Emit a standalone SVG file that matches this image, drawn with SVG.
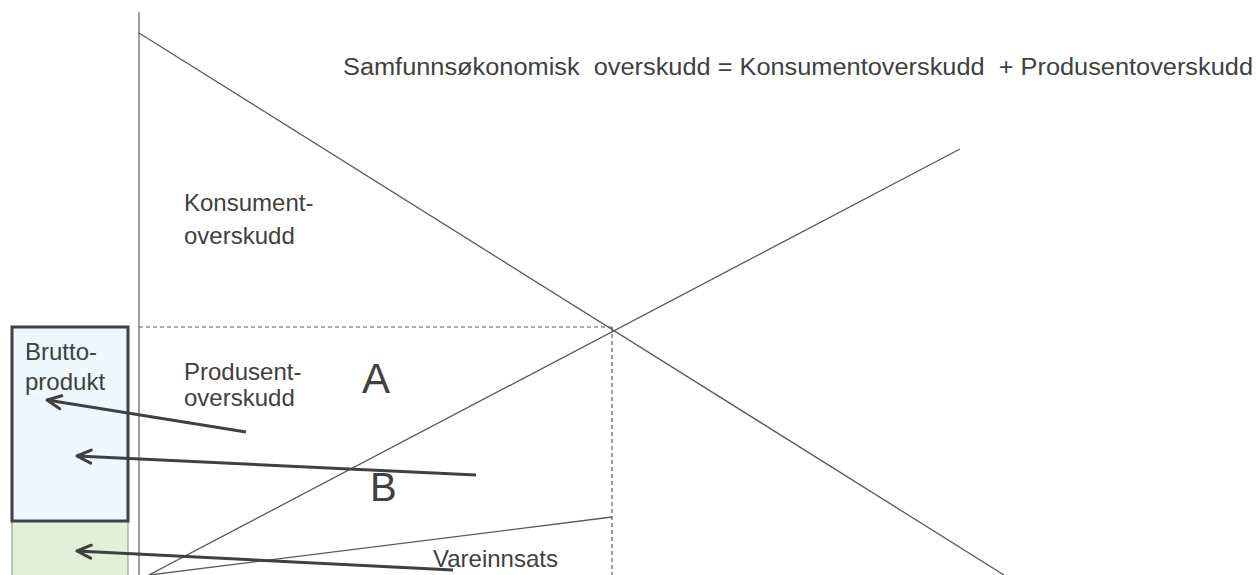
<svg xmlns="http://www.w3.org/2000/svg" width="1256" height="575" viewBox="0 0 1256 575">
  <style>
    .lbl { font-family: "Liberation Sans", Arial, sans-serif; font-size: 24px; fill: #404040; }
    .big { font-family: "Liberation Sans", Arial, sans-serif; fill: #404040; }
    .curve { stroke: #595959; stroke-width: 1.3; fill: none; }
    .dash { stroke: #595959; stroke-width: 1.2; stroke-dasharray: 4 3; fill: none; }
    .arrow { stroke: #404040; stroke-width: 3; fill: none; marker-end: url(#chev); }
  </style>
  <defs>
    <marker id="chev" viewBox="-18 -9 20 18" markerWidth="20" markerHeight="18" refX="0" refY="0" orient="auto" markerUnits="userSpaceOnUse">
      <path d="M-14,-6.5 L0,0 L-14,6.5" fill="none" stroke="#404040" stroke-width="3" stroke-linecap="round" stroke-linejoin="round"/>
    </marker>
  </defs>
  <rect width="1256" height="575" fill="#ffffff"/>

  <g id="bruttoprodukt-box">
    <rect x="12" y="521" width="116" height="60" fill="#e2f0d9" stroke="#8c8c8c" stroke-width="1"/>
    <rect x="12" y="327" width="116" height="194" fill="#eff6fd" stroke="#404040" stroke-width="3"/>
    <text class="lbl" x="25" y="360">Brutto-</text>
    <text class="lbl" x="25" y="390">produkt</text>
  </g>

  <g id="axes">
    <line x1="139" y1="12" x2="139" y2="575" stroke="#808080" stroke-width="1.5"/>
  </g>

  <g id="curves">
    <line id="demand" class="curve" x1="139" y1="33" x2="1004" y2="575"/>
    <line id="supply" class="curve" x1="147" y1="576" x2="960" y2="149"/>
    <line id="vareinnsats-line" class="curve" x1="150" y1="575" x2="612" y2="517"/>
    <line class="dash" x1="139" y1="327" x2="612" y2="327"/>
    <line class="dash" x1="612" y1="327" x2="612" y2="575"/>
  </g>

  <g id="title">
    <text class="big" x="343" y="75" font-size="23" textLength="910" lengthAdjust="spacingAndGlyphs" xml:space="preserve">Samfunnsøkonomisk  overskudd = Konsumentoverskudd  + Produsentoverskudd</text>
  </g>

  <g id="konsumentoverskudd">
    <text class="lbl" x="184" y="211">Konsument-</text>
    <text class="lbl" x="184" y="244">overskudd</text>
  </g>

  <g id="produsentoverskudd">
    <text class="lbl" x="184" y="380">Produsent-</text>
    <text class="lbl" x="184" y="406">overskudd</text>
  </g>

  <g id="area-A">
    <text class="big" x="362" y="393" font-size="42">A</text>
  </g>
  <g id="area-B">
    <text class="big" x="370" y="501" font-size="40">B</text>
  </g>
  <g id="vareinnsats">
    <text class="lbl" x="433" y="567">Vareinnsats</text>
  </g>

  <g id="connectors">
    <line class="arrow" x1="246" y1="432" x2="47" y2="400"/>
    <line class="arrow" x1="476" y1="475" x2="77" y2="456"/>
    <line class="arrow" x1="453" y1="570" x2="77" y2="551"/>
  </g>
</svg>
